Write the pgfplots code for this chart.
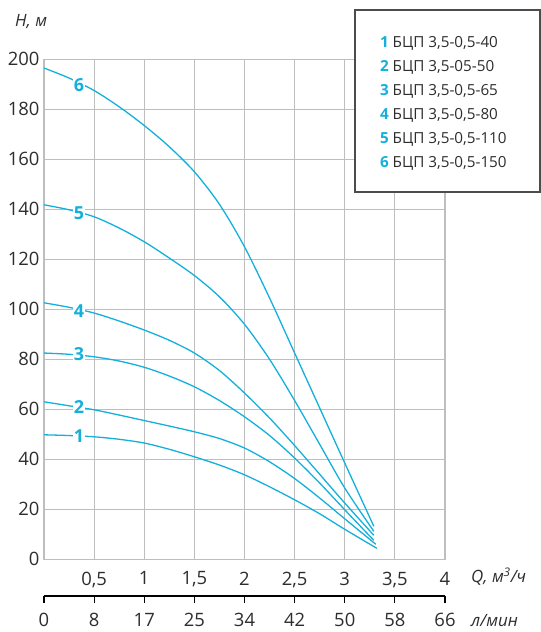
\documentclass[border=0pt]{standalone}
\usepackage{pgfplots}
\pgfplotsset{compat=1.18}
\usepackage{fontspec}
\setmainfont{Open Sans}
\definecolor{cy}{RGB}{20,176,220}
\definecolor{gr}{RGB}{190,190,190}
\definecolor{tx}{RGB}{45,45,45}
\tikzset{lbl/.style={fill=white, inner sep=0.8bp, text=cy, font=\bfseries\fontsize{18}{18}\selectfont}}
\begin{document}
\begin{tikzpicture}[x=1bp,y=1bp]
\path[use as bounding box] (0,0) rectangle (541,632);
\begin{axis}[
  at={(44bp,72.7bp)}, anchor=south west, scale only axis,
  width=401bp, height=500bp,
  xmin=0, xmax=4, ymin=0, ymax=200,
  xtick={0.5,1,1.5,2,2.5,3,3.5,4},
  xticklabels={{0,5},1,{1,5},2,{2,5},3,{3,5},4},
  ytick={0,20,...,200},
  grid=major, grid style={gr, line width=1.2bp},
  axis line style={gr, line width=1.2bp},
  major tick length=0pt,
  /pgf/number format/assume math mode=true,
  tick label style={font=\fontsize{18.5}{18.5}\selectfont, text=tx},
  yticklabel style={xshift=-1bp},
  xticklabel style={yshift=-9bp},
  clip=false,
]
\addplot[cy, line width=1.3bp, smooth] coordinates {(0,196.5)(0.25,192.5)(0.5,187.5)(0.75,181)(1.0,173.5)(1.25,165)(1.5,155)(1.75,142)(2.0,125)(2.25,104.5)(2.5,82.5)(2.75,60.5)(3.0,38.5)(3.29,13.2)};
\addplot[cy, line width=1.3bp, smooth] coordinates {(0,141.8)(0.25,139.8)(0.5,137)(0.75,132.5)(1.0,127)(1.25,120.5)(1.5,113.5)(1.75,105)(2.0,94)(2.25,80)(2.5,63.5)(2.75,46)(3.0,28.5)(3.29,11.2)};
\addplot[cy, line width=1.3bp, smooth] coordinates {(0,102.6)(0.25,100.8)(0.5,98.5)(0.75,95.3)(1.0,91.7)(1.25,87.6)(1.5,82.5)(1.75,75.5)(2.0,66.5)(2.25,56.5)(2.5,45.5)(2.75,34)(3.0,22.5)(3.29,9.6)};
\addplot[cy, line width=1.3bp, smooth] coordinates {(0,82.5)(0.25,82)(0.5,81)(0.75,79.3)(1.0,76.8)(1.25,73.3)(1.5,69)(1.75,63.5)(2.0,57)(2.25,49.5)(2.5,40.5)(2.75,30.5)(3.0,19.8)(3.29,7.6)};
\addplot[cy, line width=1.3bp, smooth] coordinates {(0,63)(0.25,61.4)(0.5,59.8)(0.75,57.7)(1.0,55.5)(1.25,53.3)(1.5,51)(1.75,48.3)(2.0,44.5)(2.25,39)(2.5,32.3)(2.75,24.5)(3.0,16.2)(3.31,6)};
\addplot[cy, line width=1.3bp, smooth] coordinates {(0,49.8)(0.25,49.5)(0.5,49)(0.75,48)(1.0,46.5)(1.25,44)(1.5,41)(1.75,37.7)(2.0,33.8)(2.25,29)(2.5,23.8)(2.75,18.2)(3.0,12)(3.32,4.4)};
\node[lbl] at (axis cs:0.35,189.7) {6};
\node[lbl] at (axis cs:0.35,138.4) {5};
\node[lbl] at (axis cs:0.35,99.4) {4};
\node[lbl] at (axis cs:0.35,82.1) {3};
\node[lbl] at (axis cs:0.35,60.8) {2};
\node[lbl] at (axis cs:0.35,49.3) {1};
\end{axis}
\begin{axis}[
  at={(44bp,36bp)}, anchor=south west, scale only axis,
  width=401bp, height=10bp,
  xmin=0, xmax=4, ymin=0, ymax=1,
  axis x line*=bottom, axis y line=none,
  xtick={0,0.5,...,4},
  xticklabels={0,8,17,25,34,42,50,58,66},
  tick align=outside, major tick length=7bp,
  axis line style={black, line width=1.2bp},
  tick style={black, line width=1.2bp},
  /pgf/number format/assume math mode=true,
  tick label style={font=\fontsize{18.5}{18.5}\selectfont, text=tx},
  xticklabel style={yshift=-7bp},
]
\end{axis}
\node[anchor=base west, font=\itshape\fontsize{17}{17}\selectfont, text=tx, inner sep=0] at (15,605) {H, м};
\node[anchor=base west, font=\itshape\fontsize{17}{17}\selectfont, text=tx, inner sep=0] at (471,49) {Q, м\textsuperscript{3}/ч};
\node[anchor=base west, font=\itshape\fontsize{17}{17}\selectfont, text=tx, inner sep=0] at (471,5) {л/мин};
\draw[fill=white, draw=black!70, line width=1.2bp] (355,622) rectangle (540,440);
\foreach \i/\t in {1/{БЦП 3,5-0,5-40},2/{БЦП 3,5-05-50},3/{БЦП 3,5-0,5-65},4/{БЦП 3,5-0,5-80},5/{БЦП 3,5-0,5-110},6/{БЦП 3,5-0,5-150}}{
  \node[anchor=base west, inner sep=0, font=\fontsize{15.3}{15.3}\selectfont] at (380,{632-47.3-24.07*(\i-1)}) {\textcolor{cy}{\bfseries\i}\hspace{0.25em}\textcolor{tx}{\t}};
}
\end{tikzpicture}
\end{document}
